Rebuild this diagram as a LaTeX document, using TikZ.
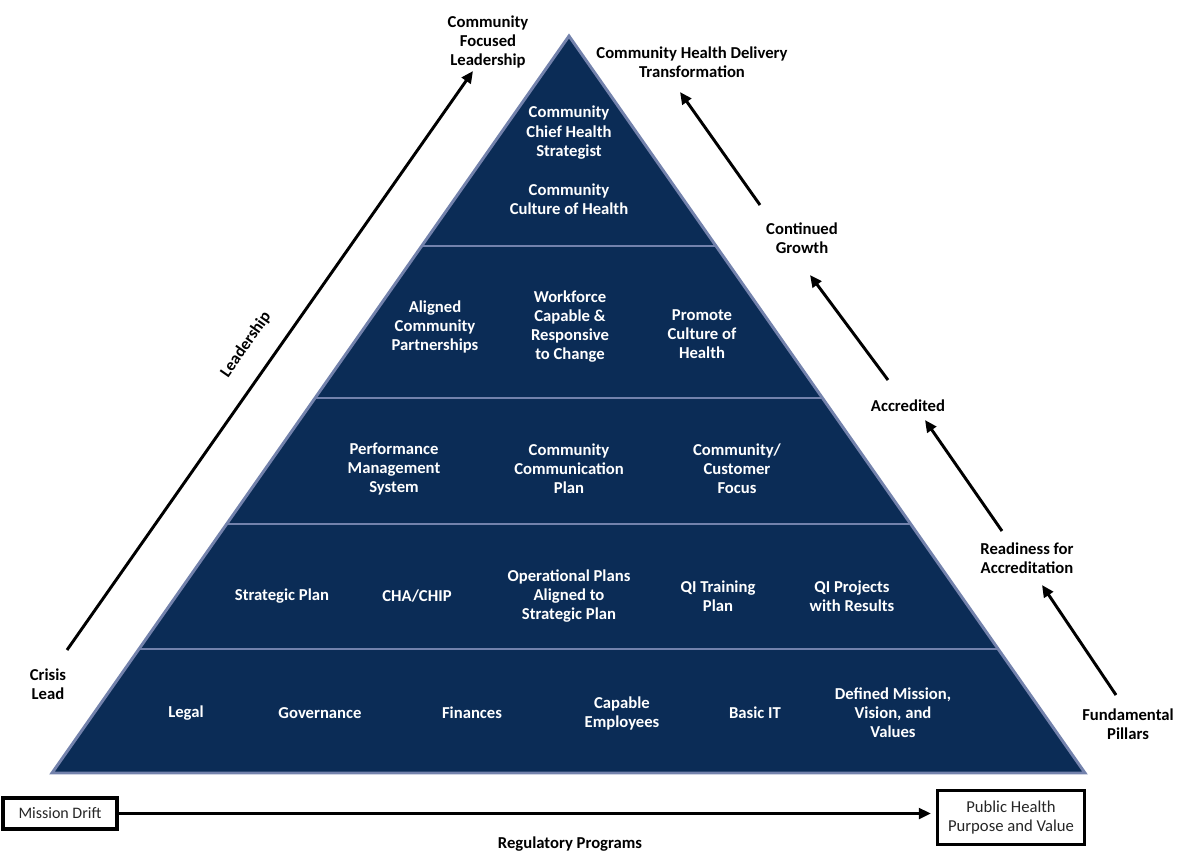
\documentclass[tikz,border=0pt]{standalone}
\usepackage{fontspec}
\setmainfont{Carlito}
\usetikzlibrary{arrows.meta}
\definecolor{navy}{HTML}{0B2C56}
\definecolor{rim}{HTML}{7382AC}
\definecolor{boxtext}{HTML}{262626}
\tikzset{
  lbl/.style={font=\fontsize{12.5}{14.3}\selectfont\bfseries, align=center, inner sep=0pt, yshift=-1.2pt},
  wlbl/.style={lbl, text=white},
  upar/.style={line width=2.2pt, -{Triangle[length=9pt,width=8pt]}},
  sep/.style={rim, line width=2.2pt},
}
\begin{document}
\begin{tikzpicture}[x=0.75pt,y=-0.75pt]
\useasboundingbox (0,0) rectangle (1182,857);
% pyramid
\fill[navy] (569,36) -- (1085,773) -- (52,773) -- cycle;
\draw[rim, line width=2.2pt, line join=miter] (569,36) -- (1085,773) -- (52,773) -- cycle;
\draw[sep] (421.7,246) -- (716,246);
\draw[sep] (315,398) -- (822,398);
\draw[sep] (226.7,524) -- (910.7,524);
\draw[sep] (139,649) -- (998,649);
% pyramid texts
\node[wlbl] (cchs) at (569,131) {Community\\Chief Health\\Strategist};
\node[wlbl] (ccoh) at (569,197.5) {Community\\Culture of Health};
\node[wlbl] (acp) at (435,325.5) {Aligned\\Community\\Partnerships};
\node[wlbl] (wcr) at (570,325) {Workforce\\Capable \&\\Responsive\\to Change};
\node[wlbl] (pcoh) at (702,332.5) {Promote\\Culture of\\Health};
\node[wlbl] (pms) at (394,467.5) {Performance\\Management\\System};
\node[wlbl] (ccp) at (569,467) {Community\\Communication\\Plan};
\node[wlbl] (ccf) at (737,467.5) {Community/\\Customer\\Focus};
\node[wlbl] (sp) at (282,594.5) {Strategic Plan};
\node[wlbl] (chip) at (417,594.5) {CHA/CHIP};
\node[wlbl] (opa) at (569,594.5) {Operational Plans\\Aligned to\\Strategic Plan};
\node[wlbl] (qit) at (718,594.5) {QI Training\\Plan};
\node[wlbl] (qip) at (852,594.5) {QI Projects\\with Results};
\node[wlbl] (legal) at (186,711.5) {Legal};
\node[wlbl] (gov) at (320,711.5) {Governance};
\node[wlbl] (fin) at (472,711.5) {Finances};
\node[wlbl] (cap) at (622,711.5) {Capable\\Employees};
\node[wlbl] (bit) at (755,711.5) {Basic IT};
\node[wlbl] (dmv) at (893,711.5) {Defined Mission,\\Vision, and\\Values};
% outside labels
\node[lbl] (cfl) at (488,40.5) {Community\\Focused\\Leadership};
\node[lbl] (chdt) at (692,60.5) {Community Health Delivery\\Transformation};
\node[lbl] (crisis) at (48,682.5) {Crisis\\Lead};
\node[lbl, rotate=55] (lead) at (246,343) {Leadership};
\node[lbl] (fp) at (1128,723) {Fundamental\\Pillars};
\node[lbl] (rfa) at (1027,556.5) {Readiness for\\Accreditation};
\node[lbl] (acc) at (908,404) {Accredited};
\node[lbl] (cg) at (802,236.5) {Continued\\Growth};
\node[lbl] (rp) at (570,842) {Regulatory Programs};
% arrows
\coordinate (l0) at (67,650); \coordinate (l1) at (473,71);
\draw[upar] (l0) -- (l1);
\coordinate (a0) at (1116,695); \coordinate (a1) at (1042,585);
\coordinate (b0) at (1002,531); \coordinate (b1) at (925,420);
\coordinate (c0) at (888,380); \coordinate (c1) at (810,275);
\coordinate (d0) at (760,205); \coordinate (d1) at (680,92);
\draw[upar] (a0) -- (a1);
\draw[upar] (b0) -- (b1);
\draw[upar] (c0) -- (c1);
\draw[upar] (d0) -- (d1);
% bottom boxes
\node[draw, line width=3pt, minimum width=85pt, minimum height=23pt, inner sep=2pt,
      font=\fontsize{12}{14.3}\selectfont, text=boxtext] (md) at (60,813.5) {Mission Drift};
\node[draw, line width=2.2pt, minimum width=110pt, minimum height=40pt, inner sep=2pt, align=center,
      font=\fontsize{12.5}{14.3}\selectfont, text=boxtext] (ph) at (1011,817.5) {Public Health\\Purpose and Value};
\draw[line width=2.2pt, -{Triangle[length=9pt,width=8pt]}, shorten >=4pt] (md.east) -- (md.east -| ph.west);
\end{tikzpicture}
\end{document}
